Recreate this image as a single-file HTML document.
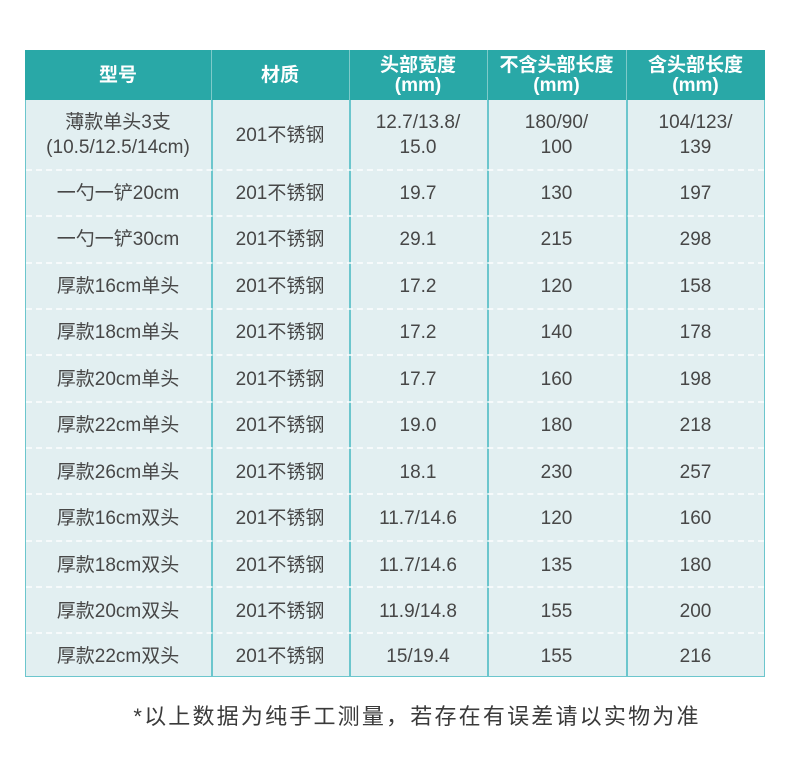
<!DOCTYPE html>
<html><head><meta charset="utf-8"><style>
*{margin:0;padding:0;box-sizing:border-box}
body{width:790px;height:777px;background:#fff;position:relative;overflow:hidden;font-family:"Liberation Sans","Noto Sans CJK SC",sans-serif}
.hdr{position:absolute;left:25px;top:50px;width:740px;height:50px;background:#29a8a7}
.body{position:absolute;left:25px;top:100px;width:740px;height:577px;background:#e2eff1;border-left:1.5px solid #6cc6cd;border-right:1.5px solid #6cc6cd;border-bottom:1.5px solid #6cc6cd}
.vl{position:absolute;width:1.5px;background:#6cc6cd;top:100px;height:577px}
.vh{position:absolute;width:1px;background:#7fcac9;top:50px;height:50px}
.sep{position:absolute;left:26px;width:738px;height:0;border-top:2px dashed rgba(255,255,255,0.7)}
.c{position:absolute;display:flex;align-items:center;justify-content:center;text-align:center;color:#474747;font-size:19px;line-height:25px}
.h{position:absolute;display:flex;align-items:center;justify-content:center;text-align:center;color:#fff;font-size:19px;font-weight:bold;line-height:20px;top:51px;height:50px}
.note{position:absolute;left:22px;width:790px;top:702px;text-align:center;font-size:22px;color:#3a3a3a;letter-spacing:2.2px;line-height:30px}
</style></head><body>
<div class="hdr"></div>
<div class="body"></div>
<div class="vh" style="left:211px"></div>
<div class="vh" style="left:349px"></div>
<div class="vh" style="left:487px"></div>
<div class="vh" style="left:626px"></div>
<div class="vl" style="left:211px"></div>
<div class="vl" style="left:349px"></div>
<div class="vl" style="left:487px"></div>
<div class="vl" style="left:626px"></div>

<div class="h" style="left:25px;width:186px">型号</div>
<div class="h" style="left:211px;width:138px">材质</div>
<div class="h" style="left:349px;width:138px">头部宽度<br>(mm)</div>
<div class="h" style="left:487px;width:139px">不含头部长度<br>(mm)</div>
<div class="h" style="left:626px;width:139px">含头部长度<br>(mm)</div>

<div class="sep" style="top:169px"></div>
<div class="sep" style="top:215px"></div>
<div class="sep" style="top:262px"></div>
<div class="sep" style="top:308px"></div>
<div class="sep" style="top:354px"></div>
<div class="sep" style="top:401px"></div>
<div class="sep" style="top:447px"></div>
<div class="sep" style="top:493px"></div>
<div class="sep" style="top:540px"></div>
<div class="sep" style="top:586px"></div>
<div class="sep" style="top:632px"></div>

<!-- row 1 -->
<div class="c" style="left:25px;width:186px;top:100px;height:70px">薄款单头3支<br>(10.5/12.5/14cm)</div>
<div class="c" style="left:211px;width:138px;top:100px;height:70px">201不锈钢</div>
<div class="c" style="left:349px;width:138px;top:100px;height:70px">12.7/13.8/<br>15.0</div>
<div class="c" style="left:487px;width:139px;top:100px;height:70px">180/90/<br>100</div>
<div class="c" style="left:626px;width:139px;top:100px;height:70px">104/123/<br>139</div>

<div class="c" style="left:25px;width:186px;top:170px;height:46px">一勺一铲20cm</div>
<div class="c" style="left:211px;width:138px;top:170px;height:46px">201不锈钢</div>
<div class="c" style="left:349px;width:138px;top:170px;height:46px">19.7</div>
<div class="c" style="left:487px;width:139px;top:170px;height:46px">130</div>
<div class="c" style="left:626px;width:139px;top:170px;height:46px">197</div>

<div class="c" style="left:25px;width:186px;top:216px;height:46px">一勺一铲30cm</div>
<div class="c" style="left:211px;width:138px;top:216px;height:46px">201不锈钢</div>
<div class="c" style="left:349px;width:138px;top:216px;height:46px">29.1</div>
<div class="c" style="left:487px;width:139px;top:216px;height:46px">215</div>
<div class="c" style="left:626px;width:139px;top:216px;height:46px">298</div>

<div class="c" style="left:25px;width:186px;top:263px;height:46px">厚款16cm单头</div>
<div class="c" style="left:211px;width:138px;top:263px;height:46px">201不锈钢</div>
<div class="c" style="left:349px;width:138px;top:263px;height:46px">17.2</div>
<div class="c" style="left:487px;width:139px;top:263px;height:46px">120</div>
<div class="c" style="left:626px;width:139px;top:263px;height:46px">158</div>

<div class="c" style="left:25px;width:186px;top:309px;height:46px">厚款18cm单头</div>
<div class="c" style="left:211px;width:138px;top:309px;height:46px">201不锈钢</div>
<div class="c" style="left:349px;width:138px;top:309px;height:46px">17.2</div>
<div class="c" style="left:487px;width:139px;top:309px;height:46px">140</div>
<div class="c" style="left:626px;width:139px;top:309px;height:46px">178</div>

<div class="c" style="left:25px;width:186px;top:356px;height:46px">厚款20cm单头</div>
<div class="c" style="left:211px;width:138px;top:356px;height:46px">201不锈钢</div>
<div class="c" style="left:349px;width:138px;top:356px;height:46px">17.7</div>
<div class="c" style="left:487px;width:139px;top:356px;height:46px">160</div>
<div class="c" style="left:626px;width:139px;top:356px;height:46px">198</div>

<div class="c" style="left:25px;width:186px;top:402px;height:46px">厚款22cm单头</div>
<div class="c" style="left:211px;width:138px;top:402px;height:46px">201不锈钢</div>
<div class="c" style="left:349px;width:138px;top:402px;height:46px">19.0</div>
<div class="c" style="left:487px;width:139px;top:402px;height:46px">180</div>
<div class="c" style="left:626px;width:139px;top:402px;height:46px">218</div>

<div class="c" style="left:25px;width:186px;top:449px;height:46px">厚款26cm单头</div>
<div class="c" style="left:211px;width:138px;top:449px;height:46px">201不锈钢</div>
<div class="c" style="left:349px;width:138px;top:449px;height:46px">18.1</div>
<div class="c" style="left:487px;width:139px;top:449px;height:46px">230</div>
<div class="c" style="left:626px;width:139px;top:449px;height:46px">257</div>

<div class="c" style="left:25px;width:186px;top:495px;height:46px">厚款16cm双头</div>
<div class="c" style="left:211px;width:138px;top:495px;height:46px">201不锈钢</div>
<div class="c" style="left:349px;width:138px;top:495px;height:46px">11.7/14.6</div>
<div class="c" style="left:487px;width:139px;top:495px;height:46px">120</div>
<div class="c" style="left:626px;width:139px;top:495px;height:46px">160</div>

<div class="c" style="left:25px;width:186px;top:542px;height:46px">厚款18cm双头</div>
<div class="c" style="left:211px;width:138px;top:542px;height:46px">201不锈钢</div>
<div class="c" style="left:349px;width:138px;top:542px;height:46px">11.7/14.6</div>
<div class="c" style="left:487px;width:139px;top:542px;height:46px">135</div>
<div class="c" style="left:626px;width:139px;top:542px;height:46px">180</div>

<div class="c" style="left:25px;width:186px;top:588px;height:46px">厚款20cm双头</div>
<div class="c" style="left:211px;width:138px;top:588px;height:46px">201不锈钢</div>
<div class="c" style="left:349px;width:138px;top:588px;height:46px">11.9/14.8</div>
<div class="c" style="left:487px;width:139px;top:588px;height:46px">155</div>
<div class="c" style="left:626px;width:139px;top:588px;height:46px">200</div>

<div class="c" style="left:25px;width:186px;top:634px;height:44px">厚款22cm双头</div>
<div class="c" style="left:211px;width:138px;top:634px;height:44px">201不锈钢</div>
<div class="c" style="left:349px;width:138px;top:634px;height:44px">15/19.4</div>
<div class="c" style="left:487px;width:139px;top:634px;height:44px">155</div>
<div class="c" style="left:626px;width:139px;top:634px;height:44px">216</div>

<div class="note">*以上数据为纯手工测量，若存在有误差请以实物为准</div>
</body></html>
